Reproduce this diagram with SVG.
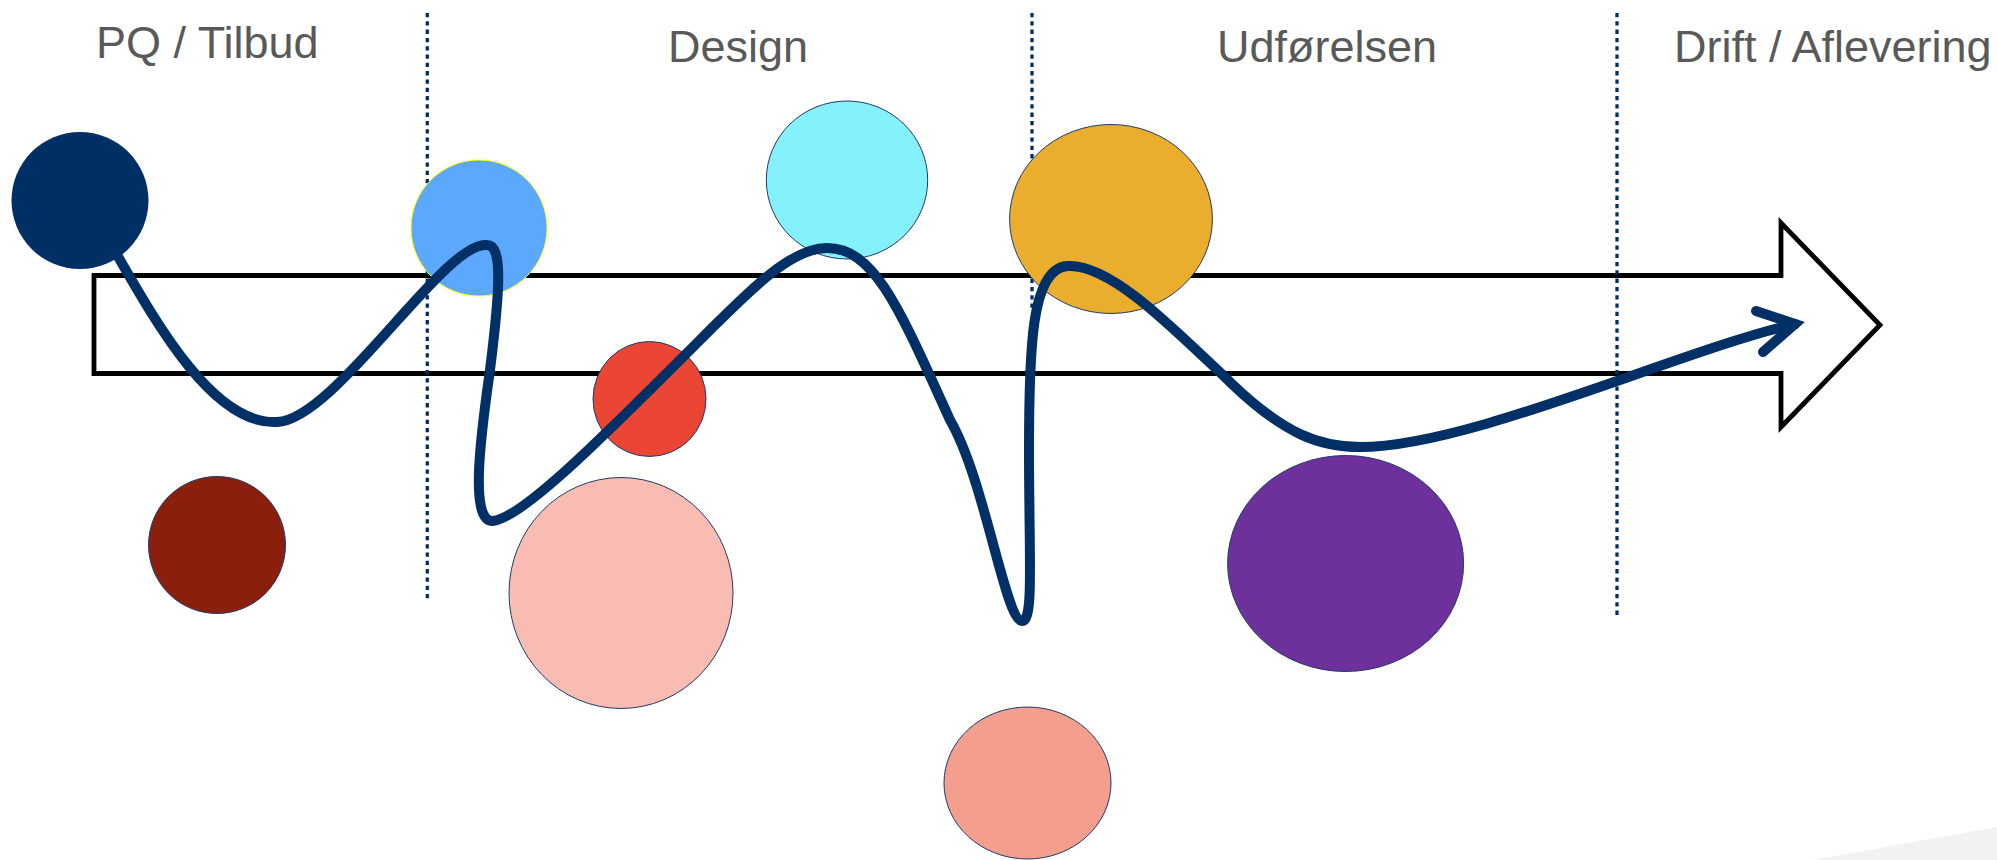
<svg xmlns="http://www.w3.org/2000/svg" width="1997" height="860" viewBox="0 0 1997 860">
  <style>
    .lbl { font-family: "Liberation Sans", Arial, sans-serif; font-size: 45px; fill: #595959; }
    .phase { stroke: #002F66; stroke-width: 3.3; stroke-dasharray: 4.3 4; fill: none; }
    .node { stroke: #1F3A6B; stroke-width: 1; }
    .flow { fill: none; stroke: #003066; stroke-width: 10; stroke-linecap: round; stroke-linejoin: round; }
  </style>
  <rect width="1997" height="860" fill="#FFFFFF"/>
  <polygon points="1813,860 1997,827 1997,860" fill="#F2F2F2"/>

  <g id="labels">
    <text class="lbl" x="96" y="58">PQ / Tilbud</text>
    <text class="lbl" x="668" y="62">Design</text>
    <text class="lbl" x="1217" y="62">Udførelsen</text>
    <text class="lbl" x="1674" y="62">Drift / Aflevering</text>
  </g>

  <g id="timeline-arrow">
    <polygon points="94,275.5 1781,275.5 1781,223 1880,325 1781,427 1781,373.5 94,373.5" fill="none" stroke="#000000" stroke-width="4.8" stroke-linejoin="miter"/>
  </g>

  <g id="phase-dividers">
    <line class="phase" x1="427.3" y1="13" x2="427.3" y2="600"/>
    <line class="phase" x1="1032" y1="13" x2="1032" y2="310"/>
    <line class="phase" x1="1617" y1="13" x2="1617" y2="617"/>
  </g>

  <g id="node-navy"><ellipse cx="80" cy="200.5" rx="68.5" ry="68.5" fill="#002F66"/></g>
  <g id="node-darkred"><ellipse class="node" cx="217" cy="545" rx="68.5" ry="68.5" fill="#8B1F0D"/></g>
  <g id="node-blue"><ellipse cx="479" cy="228" rx="68" ry="68" fill="#5DA8FF" stroke="#FFFF00" stroke-width="1"/></g>
  <g id="node-cyan"><ellipse class="node" cx="847" cy="180" rx="80.7" ry="79" fill="#85F1FD"/></g>
  <g id="node-red"><ellipse class="node" cx="649.5" cy="399" rx="56.5" ry="57.5" fill="#EB4533"/></g>
  <g id="node-pink"><ellipse class="node" cx="621" cy="593" rx="112" ry="115.5" fill="#F9BCB3"/></g>
  <g id="node-orange"><ellipse class="node" cx="1111" cy="219" rx="101.4" ry="94.5" fill="#EBAD2D"/></g>
  <g id="node-purple"><ellipse class="node" cx="1345.6" cy="563.5" rx="118" ry="108" fill="#6E309B"/></g>
  <g id="node-salmon"><ellipse class="node" cx="1027.5" cy="783" rx="83.5" ry="76" fill="#F49F8D"/></g>

  <g id="connectors">
    <path class="flow" d="M116,253 C160,330 215,425 277,422 C335,420 445,240 487,245 C503,245 500,290 490,370 C480,440 470,520 492,521 C520,520 600,440 690,350 C750,290 790,248 827,248 C875,248 900,310 950,420 C985,480 1005,620 1022,621 C1034,621 1029,560 1029,450 C1029,350 1031,267 1068,266 C1110,264 1170,325 1230,382 C1285,435 1320,447 1360,447 C1470,447 1680,350 1795,324"/>
    <polyline points="1756,311 1795,324 1763,352" fill="none" stroke="#003066" stroke-width="10" stroke-linecap="round" stroke-linejoin="miter" stroke-miterlimit="10"/>
  </g>
</svg>
